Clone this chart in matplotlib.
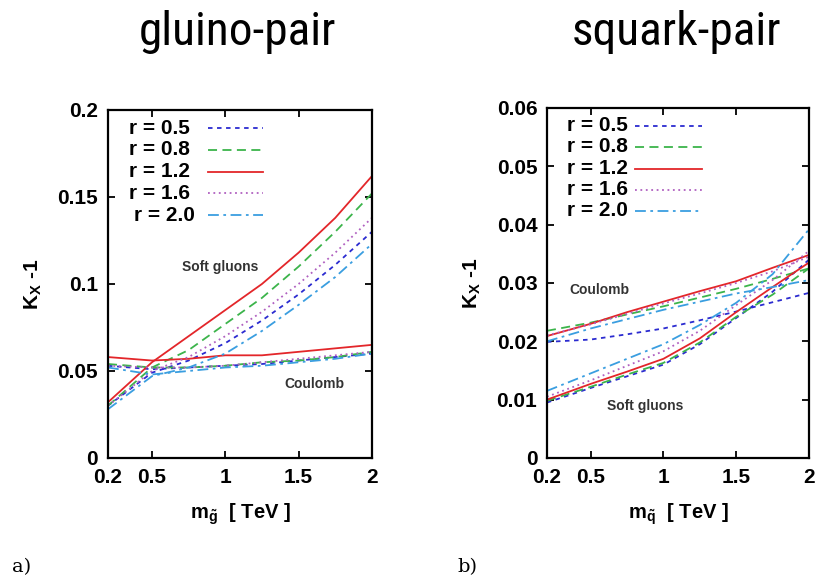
import matplotlib
matplotlib.use('Agg')
import matplotlib.pyplot as plt

plt.rcParams['font.family'] = ['Liberation Sans', 'DejaVu Sans']
plt.rcParams['mathtext.fontset'] = 'custom'
plt.rcParams['mathtext.rm'] = 'Liberation Sans:bold'
plt.rcParams['mathtext.bf'] = 'Liberation Sans:bold'
plt.rcParams['mathtext.it'] = 'Liberation Sans:bold'

# mass grid [TeV]
mass = [0.2, 0.5, 0.75, 1.0, 1.25, 1.5, 1.75, 2.0]
r_labels = ['r = 0.5', 'r = 0.8', 'r = 1.2', 'r = 1.6', 'r = 2.0']

# gluino-pair, K_X - 1
gl_soft_05 = [0.030, 0.049, 0.056, 0.066, 0.079, 0.094, 0.111, 0.130]
gl_soft_08 = [0.030, 0.052, 0.062, 0.077, 0.092, 0.110, 0.130, 0.152]
gl_soft_12 = [0.032, 0.055, 0.070, 0.085, 0.100, 0.118, 0.138, 0.162]
gl_soft_16 = [0.030, 0.050, 0.058, 0.070, 0.084, 0.100, 0.118, 0.138]
gl_soft_20 = [0.028, 0.047, 0.052, 0.060, 0.073, 0.088, 0.104, 0.123]
gl_coul_05 = [0.053, 0.051, 0.052, 0.053, 0.054, 0.056, 0.058, 0.060]
gl_coul_08 = [0.054, 0.052, 0.052, 0.053, 0.055, 0.056, 0.058, 0.061]
gl_coul_12 = [0.058, 0.056, 0.057, 0.059, 0.059, 0.061, 0.063, 0.065]
gl_coul_16 = [0.053, 0.052, 0.052, 0.053, 0.055, 0.057, 0.059, 0.061]
gl_coul_20 = [0.052, 0.048, 0.050, 0.052, 0.053, 0.055, 0.057, 0.060]

# squark-pair, K_X - 1
sq_soft_05 = [0.0095, 0.0120, 0.0140, 0.0160, 0.0195, 0.0240, 0.0285, 0.0340]
sq_soft_08 = [0.0098, 0.0122, 0.0143, 0.0163, 0.0198, 0.0242, 0.0280, 0.0325]
sq_soft_12 = [0.0100, 0.0127, 0.0148, 0.0170, 0.0205, 0.0250, 0.0293, 0.0335]
sq_soft_16 = [0.0105, 0.0133, 0.0158, 0.0183, 0.0218, 0.0262, 0.0305, 0.0355]
sq_soft_20 = [0.0115, 0.0145, 0.0170, 0.0195, 0.0228, 0.0266, 0.0315, 0.0392]
sq_coul_05 = [0.0199, 0.0203, 0.0212, 0.0222, 0.0236, 0.0251, 0.0267, 0.0283]
sq_coul_08 = [0.0218, 0.0232, 0.0246, 0.0260, 0.0275, 0.0290, 0.0307, 0.0325]
sq_coul_12 = [0.0209, 0.0230, 0.0250, 0.0268, 0.0286, 0.0303, 0.0326, 0.0348]
sq_coul_16 = [0.0210, 0.0229, 0.0247, 0.0265, 0.0282, 0.0300, 0.0320, 0.0345]
sq_coul_20 = [0.0200, 0.0222, 0.0238, 0.0254, 0.0268, 0.0282, 0.0293, 0.0305]

colors = ['#2b2bd0', '#3cb44b', '#e3262a', '#b060c0', '#3a9ee0']
dashes = [(0, (2.5, 2.5)), (0, (5, 3)), '-', (0, (1, 2)), (0, (6, 2.5, 1.5, 2.5))]
lw = 1.3

fig = plt.figure(figsize=(8.28, 5.84), dpi=100)
ax1 = fig.add_axes([0.1304, 0.2158, 0.3188, 0.5959])
ax2 = fig.add_axes([0.6606, 0.2158, 0.3164, 0.5993])

gl_soft = [gl_soft_05, gl_soft_08, gl_soft_12, gl_soft_16, gl_soft_20]
gl_coul = [gl_coul_05, gl_coul_08, gl_coul_12, gl_coul_16, gl_coul_20]
sq_soft = [sq_soft_05, sq_soft_08, sq_soft_12, sq_soft_16, sq_soft_20]
sq_coul = [sq_coul_05, sq_coul_08, sq_coul_12, sq_coul_16, sq_coul_20]

for i in range(5):
    ax1.plot(mass, gl_coul[i], color=colors[i], linestyle=dashes[i], lw=lw)
    ax1.plot(mass, gl_soft[i], color=colors[i], linestyle=dashes[i], lw=lw)
    ax2.plot(mass, sq_coul[i], color=colors[i], linestyle=dashes[i], lw=lw)
    ax2.plot(mass, sq_soft[i], color=colors[i], linestyle=dashes[i], lw=lw)

# gnuplot-like key: text right aligned, sample line to the right
rows1 = [0.948, 0.885, 0.822, 0.761, 0.698]
rows2 = [0.949, 0.889, 0.826, 0.766, 0.706]
for i in range(5):
    tx = 0.33 if i == 4 else 0.311
    ax1.text(tx, rows1[i], r_labels[i], transform=ax1.transAxes, ha='right', va='center',
             fontsize=15, fontweight='bold')
    ax1.plot([0.379, 0.587], [rows1[i], rows1[i]], transform=ax1.transAxes,
             color=colors[i], linestyle=dashes[i], lw=lw)
    ax2.text(0.309, rows2[i], r_labels[i], transform=ax2.transAxes, ha='right', va='center',
             fontsize=15, fontweight='bold')
    ax2.plot([0.336, 0.592], [rows2[i], rows2[i]], transform=ax2.transAxes,
             color=colors[i], linestyle=dashes[i], lw=lw)

ax1.text(0.964, 0.1098, 'Soft gluons', ha='center', va='center', fontsize=10,
         fontweight='bold', color='#333333')
ax1.text(1.605, 0.0425, 'Coulomb', ha='center', va='center', fontsize=10,
         fontweight='bold', color='#333333')
ax2.text(0.557, 0.0288, 'Coulomb', ha='center', va='center', fontsize=10,
         fontweight='bold', color='#333333')
ax2.text(0.873, 0.0089, 'Soft gluons', ha='center', va='center', fontsize=10,
         fontweight='bold', color='#333333')

for ax in [ax1, ax2]:
    ax.set_xlim(0.2, 2)
    ax.set_xticks([0.2, 0.5, 1, 1.5, 2])
    ax.set_xticklabels(['0.2', '0.5', '1', '1.5', '2'])
    ax.tick_params(direction='in', top=True, right=True, length=5, width=1.3,
                   labelsize=15, pad=7)
    for lab in ax.get_xticklabels() + ax.get_yticklabels():
        lab.set_fontweight('bold')
    for s in ax.spines.values():
        s.set_linewidth(1.6)
    ax.set_ylabel(r'$\mathbf{K_X}$ -1', fontsize=15, fontweight='bold', labelpad=10)

ax1.set_ylim(0, 0.2)
ax1.set_yticks([0, 0.05, 0.1, 0.15, 0.2])
ax1.set_yticklabels(['0', '0.05', '0.1', '0.15', '0.2'], fontweight='bold')
ax2.set_ylim(0, 0.06)
ax2.set_yticks([0, 0.01, 0.02, 0.03, 0.04, 0.05, 0.06])
ax2.set_yticklabels(['0', '0.01', '0.02', '0.03', '0.04', '0.05', '0.06'], fontweight='bold')

ax1.set_xlabel(r'$\mathbf{m}_{\tilde{\mathbf{g}}}$  [ TeV ]', fontsize=14.5, fontweight='bold',
               labelpad=11)
ax2.set_xlabel(r'$\mathbf{m}_{\tilde{\mathbf{q}}}$  [ TeV ]', fontsize=14.5, fontweight='bold',
               labelpad=11)

title_font = ['Liberation Sans Narrow', 'Roboto Condensed', 'Roboto']
fig.text(0.2874, 0.945, 'gluino-pair', ha='center', va='center', fontsize=34,
         family=title_font, fontstretch='condensed', fontweight='normal')
fig.text(0.8176, 0.945, 'squark-pair', ha='center', va='center', fontsize=34,
         family=title_font, fontstretch='condensed', fontweight='normal')

fig.text(0.015, 0.02, 'a)', fontsize=14, family='DejaVu Serif')
fig.text(0.553, 0.02, 'b)', fontsize=14, family='DejaVu Serif')

fig.savefig('out.png', dpi=100)
